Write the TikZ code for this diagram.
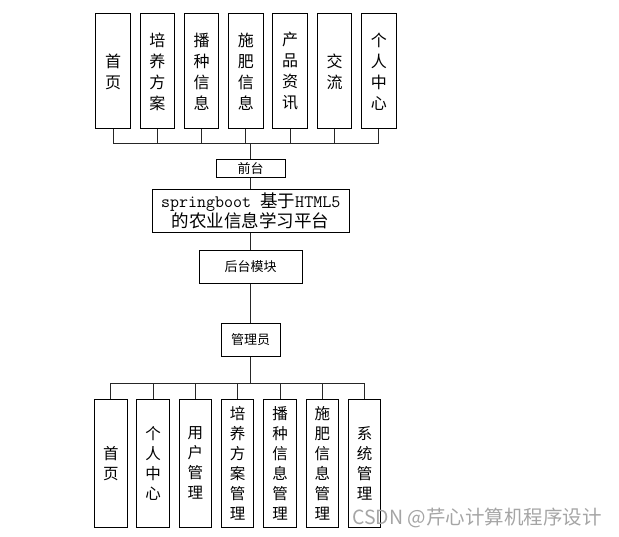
\documentclass[tikz,border=0pt]{standalone}
\usepackage{fontspec}
\setmainfont{Noto Sans CJK SC}
\usetikzlibrary{positioning}
\definecolor{markgray}{RGB}{165,165,165}

\begin{document}
\begin{tikzpicture}[
  x=1pt,y=-1pt,
  node distance=8.8pt,
  topbox/.style={draw,line width=1pt,minimum width=34.5pt,minimum height=115pt,
                 inner sep=0pt,align=center,font=\fontsize{16}{21}\selectfont},
  botbox/.style={draw,line width=1pt,minimum width=32.5pt,minimum height=128pt,
                 inner sep=0pt,align=center,font=\fontsize{15.5}{20}\selectfont},
  midbox/.style={draw,line width=1pt,inner sep=0pt,align=center,
                 font=\fontsize{13}{15}\selectfont},
  link/.style={line width=1pt,draw=black!85},
]
\useasboundingbox (0,0) rectangle (619,537);

\node[topbox] (t1) at (113,71.5) {首\\页};
\node[topbox, right=of t1] (t2) {培\\养\\方\\案};
\node[topbox, right=of t2] (t3) {播\\种\\信\\息};
\node[topbox, right=of t3] (t4) {施\\肥\\信\\息};
\node[topbox, right=of t4] (t5) {产\\品\\资\\讯};
\node[topbox, right=of t5] (t6) {交\\流};
\node[topbox, right=of t6] (t7) {个\\人\\中\\心};

\node[midbox, minimum width=69.3pt, minimum height=18.4pt] (qt) at (250.7,168.5) {前台};
\node[midbox, minimum width=197pt, minimum height=43pt,
      font=\fontsize{17.5}{20}\selectfont] (sb) at (250.7,210.8)
  {{\ttfamily springboot }基于{\ttfamily HTML5}\\的农业信息学习平台};
\node[midbox, minimum width=102.7pt, minimum height=32.6pt] (ht) at (250.7,267) {后台模块};
\node[midbox, minimum width=59pt, minimum height=33.4pt] (gly) at (250.7,340) {管理员};

\node[botbox] (b1) at (110.8,463.3) {首\\页};
\node[botbox, right=of b1] (b2) {个\\人\\中\\心};
\node[botbox, right=of b2] (b3) {用\\户\\管\\理};
\node[botbox, right=of b3] (b4) {培\\养\\方\\案\\管\\理};
\node[botbox, right=of b4] (b5) {播\\种\\信\\息\\管\\理};
\node[botbox, right=of b5] (b6) {施\\肥\\信\\息\\管\\理};
\node[botbox, right=of b6] (b7) {系\\统\\管\\理};

\coordinate (topbus) at (250.7,144);
\coordinate (botbus) at (250.7,383.3);

\foreach \i in {1,...,7}
  \draw[link] (t\i.south) |- (topbus);
\draw[link] (topbus) -- (qt.north);
\draw[link] (qt) -- (sb);
\draw[link] (sb) -- (ht);
\draw[link] (ht) -- (gly);
\draw[link] (gly) -- (botbus);
\foreach \i in {1,...,7}
  \draw[link] (botbus) -| (b\i.north);

\node[anchor=west, inner sep=0pt, text=markgray, font=\fontsize{19.5}{20}\selectfont]
  (mark) at (352,518) {CSDN @芹心计算机程序设计};
\end{tikzpicture}
\end{document}
